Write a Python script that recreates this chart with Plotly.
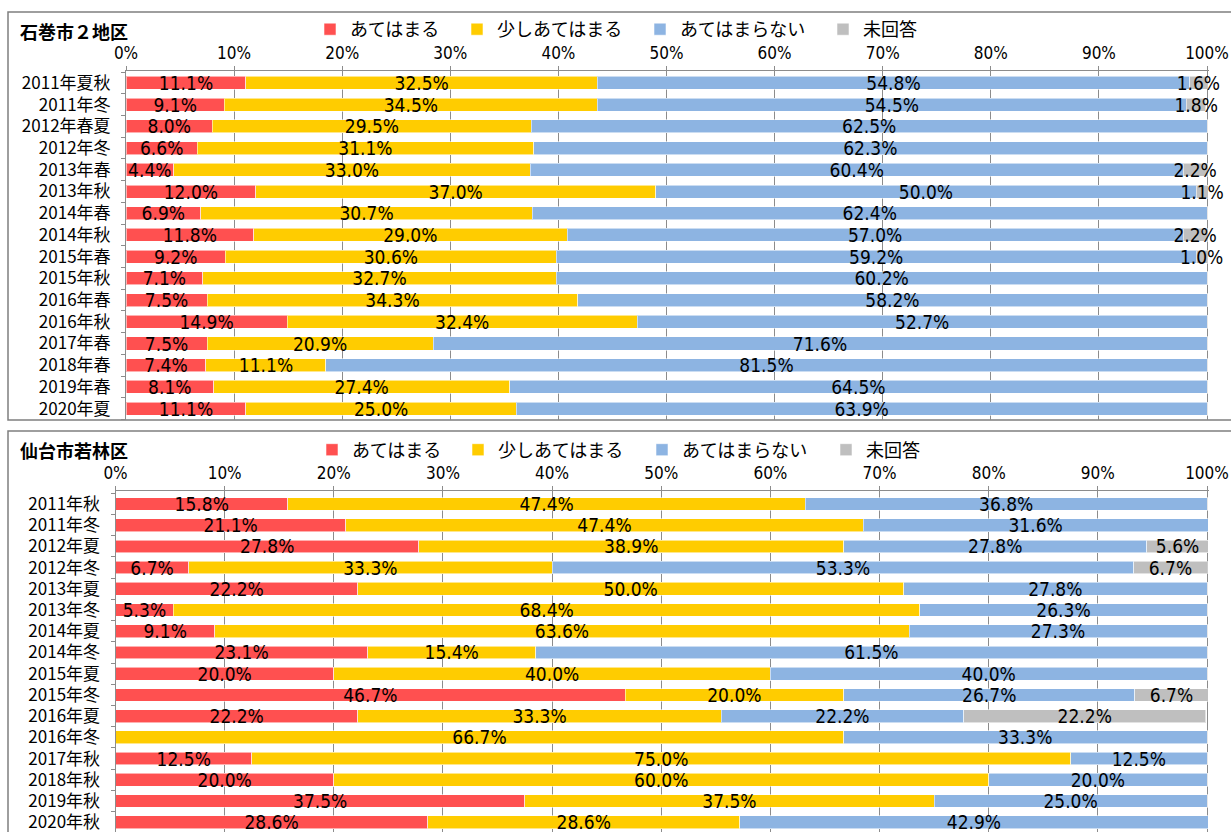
import plotly.graph_objects as go

W, H = 1231, 832

# ---------------- data ----------------
series_names = ["あてはまる", "少しあてはまる", "あてはまらない", "未回答"]
series_colors = ["#FF5050", "#FFCC00", "#8DB4E2", "#BFBFBF"]

top_title = "石巻市２地区"
top_periods = ["2011年夏秋", "2011年冬", "2012年春夏", "2012年冬", "2013年春", "2013年秋",
               "2014年春", "2014年秋", "2015年春", "2015年秋", "2016年春", "2016年秋",
               "2017年春", "2018年春", "2019年春", "2020年夏"]
top_atehamaru = [11.1, 9.1, 8.0, 6.6, 4.4, 12.0, 6.9, 11.8, 9.2, 7.1, 7.5, 14.9, 7.5, 7.4, 8.1, 11.1]
top_sukoshi = [32.5, 34.5, 29.5, 31.1, 33.0, 37.0, 30.7, 29.0, 30.6, 32.7, 34.3, 32.4, 20.9, 11.1, 27.4, 25.0]
top_atehamaranai = [54.8, 54.5, 62.5, 62.3, 60.4, 50.0, 62.4, 57.0, 59.2, 60.2, 58.2, 52.7, 71.6, 81.5, 64.5, 63.9]
top_mikaito = [1.6, 1.8, 0, 0, 2.2, 1.1, 0, 2.2, 1.0, 0, 0, 0, 0, 0, 0, 0]

bot_title = "仙台市若林区"
bot_periods = ["2011年秋", "2011年冬", "2012年夏", "2012年冬", "2013年夏", "2013年冬",
               "2014年夏", "2014年冬", "2015年夏", "2015年冬", "2016年夏", "2016年冬",
               "2017年秋", "2018年秋", "2019年秋", "2020年秋"]
bot_atehamaru = [15.8, 21.1, 27.8, 6.7, 22.2, 5.3, 9.1, 23.1, 20.0, 46.7, 22.2, 0, 12.5, 20.0, 37.5, 28.6]
bot_sukoshi = [47.4, 47.4, 38.9, 33.3, 50.0, 68.4, 63.6, 15.4, 40.0, 20.0, 33.3, 66.7, 75.0, 60.0, 37.5, 28.6]
bot_atehamaranai = [36.8, 31.6, 27.8, 53.3, 27.8, 26.3, 27.3, 61.5, 40.0, 26.7, 22.2, 33.3, 12.5, 20.0, 25.0, 42.9]
bot_mikaito = [0, 0, 5.6, 6.7, 0, 0, 0, 0, 0, 6.7, 22.2, 0, 0, 0, 0, 0]

x_tickvals = [0, 10, 20, 30, 40, 50, 60, 70, 80, 90, 100]
x_ticktext = ["0%", "10%", "20%", "30%", "40%", "50%", "60%", "70%", "80%", "90%", "100%"]

# ---------------- styling ----------------
NARROW = "Liberation Sans Narrow, Arial Narrow, DejaVu Sans Condensed, sans-serif"
CJK = "Noto Sans CJK JP, sans-serif"
CAT_FONT = "Liberation Sans Narrow, Noto Sans CJK JP, sans-serif"
GRID = "#8C8C8C"
BORDER = "#7F7F7F"
XMAX = 100.15  # a hair past 100 so rounded totals (100.1) stay inside the plot


def px_x(x):
    return x / W


def px_y(y):
    return 1 - y / H


def x_domain(left_px, right100_px):
    right = left_px + (right100_px - left_px) * XMAX / 100.0
    return [px_x(left_px), px_x(right)]


fig = go.Figure()

panels = [
    dict(periods=top_periods, vals=[top_atehamaru, top_sukoshi, top_atehamaranai, top_mikaito],
         xa="x", ya="y", legends=["legend", "legend2", "legend3", "legend4"]),
    dict(periods=bot_periods, vals=[bot_atehamaru, bot_sukoshi, bot_atehamaranai, bot_mikaito],
         xa="x2", ya="y2", legends=["legend5", "legend6", "legend7", "legend8"]),
]

for p in panels:
    for name, color, vals, leg in zip(series_names, series_colors, p["vals"], p["legends"]):
        fig.add_trace(go.Bar(
            y=p["periods"], x=vals, name=name, orientation="h",
            marker=dict(color=color, line=dict(color="rgba(255,255,255,0.55)", width=1)),
            text=[f"{v:.1f}%" if v > 0 else "" for v in vals],
            textposition="inside", insidetextanchor="middle", textangle=0,
            constraintext="none", cliponaxis=False,
            textfont=dict(family=NARROW, size=19, color="black"),
            xaxis=p["xa"], yaxis=p["ya"], legend=leg, showlegend=True, hoverinfo="skip",
        ))

xcommon = dict(range=[0, XMAX], tickmode="array", tickvals=x_tickvals, ticktext=x_ticktext, side="top",
               showgrid=True, gridcolor=GRID, gridwidth=1, zeroline=False,
               showline=True, linecolor=GRID, linewidth=1,
               ticks="outside", ticklen=4, tickcolor=GRID, tickwidth=1, automargin=False,
               tickfont=dict(family=NARROW, size=17, color="black"), fixedrange=True)
ycommon = dict(type="category", tickson="boundaries", ticks="outside", ticklen=4,
               tickcolor=GRID, tickwidth=1, showline=True, linecolor=GRID, linewidth=1,
               showgrid=False, zeroline=False, ticklabelstandoff=11, automargin=False,
               tickfont=dict(family=CAT_FONT, size=17, color="black"), fixedrange=True)

fig.update_layout(
    width=W, height=H, margin=dict(l=0, r=0, t=0, b=0, pad=0, autoexpand=False),
    paper_bgcolor="white", plot_bgcolor="white", showlegend=True,
    barmode="stack", bargap=0.4,
    uniformtext=dict(minsize=19, mode="show"),
    xaxis=dict(domain=x_domain(126, 1207), anchor="y", **xcommon),
    yaxis=dict(domain=[px_y(419.5), px_y(71)], anchor="x", range=[15.5, -0.55],
               tickmode="array", tickvals=top_periods, ticktext=top_periods, **ycommon),
    xaxis2=dict(domain=x_domain(115.5, 1207), anchor="y2", **xcommon),
    yaxis2=dict(domain=[0, px_y(491)], anchor="x2", range=[15.46, -0.61],
                tickmode="array", tickvals=bot_periods, ticktext=bot_periods, **ycommon),
)

# legends: one per entry so each sits where the reference places it
top_text_x = [350, 497, 680, 863]
bot_text_x = [352, 498, 682, 866]
legend_layout = {}
for keys, xs, yc in [(panels[0]["legends"], top_text_x, 29.5), (panels[1]["legends"], bot_text_x, 450)]:
    for k, tx in zip(keys, xs):
        legend_layout[k] = dict(x=px_x(tx - 40), xanchor="left", y=px_y(yc), yanchor="middle",
                                orientation="h", bgcolor="rgba(0,0,0,0)", borderwidth=0,
                                font=dict(family=CJK, size=18, color="black"), visible=True,
                                itemclick=False, itemdoubleclick=False)
fig.update_layout(**legend_layout)

# panel titles
fig.add_annotation(text=f"<b>{top_title}</b>", xref="paper", yref="paper", x=px_x(18), y=px_y(30.5),
                   xanchor="left", yanchor="middle", showarrow=False,
                   font=dict(family=CJK, size=18, color="black"))
fig.add_annotation(text=f"<b>{bot_title}</b>", xref="paper", yref="paper", x=px_x(18), y=px_y(450),
                   xanchor="left", yanchor="middle", showarrow=False,
                   font=dict(family=CJK, size=18, color="black"))

# panel frames
fig.add_shape(type="rect", xref="paper", yref="paper", x0=px_x(8), x1=1.02, y0=px_y(420), y1=px_y(12),
              line=dict(color=BORDER, width=1.5), layer="below")
fig.add_shape(type="rect", xref="paper", yref="paper", x0=px_x(8), x1=1.02, y0=-0.02, y1=px_y(431),
              line=dict(color=BORDER, width=1.5), layer="below")

fig.write_html("out.html")
